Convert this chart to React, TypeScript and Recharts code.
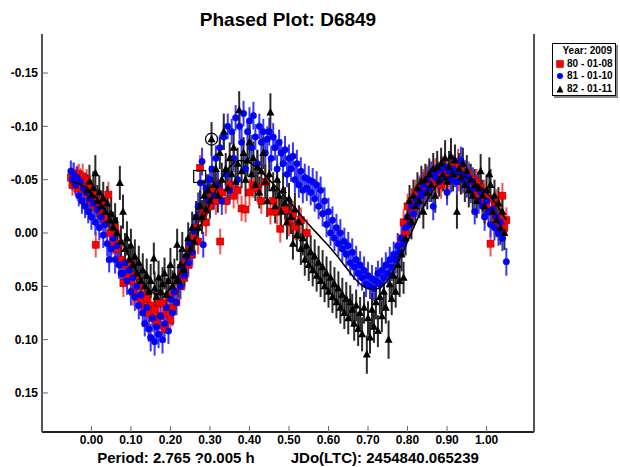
import React from "react";
import { ErrorBar, Scatter, ScatterChart, XAxis, YAxis } from "recharts";

// [phase, magnitude, error]
const session80: [number, number, number][] = [
  [-0.052, -0.052, 0.010], [-0.048, -0.045, 0.010], [-0.045, -0.056, 0.010], [-0.042, -0.048, 0.011],
  [-0.038, -0.052, 0.010], [-0.035, -0.042, 0.012], [-0.032, -0.055, 0.010], [-0.028, -0.050, 0.011],
  [-0.025, -0.045, 0.010], [-0.022, -0.053, 0.012], [-0.018, -0.047, 0.010], [-0.015, -0.040, 0.011],
  [-0.012, -0.050, 0.010], [-0.008, -0.035, 0.012], [-0.005, -0.044, 0.010], [0.000, -0.030, 0.011],
  [0.004, -0.038, 0.010], [0.008, -0.025, 0.012], [0.011, 0.011, 0.012], [0.015, -0.030, 0.011],
  [0.020, -0.022, 0.010], [0.025, -0.018, 0.012], [0.030, -0.028, 0.011], [0.035, -0.010, 0.012],
  [0.040, -0.015, 0.011], [0.043, -0.036, 0.012], [0.048, 0.000, 0.012],
  [0.055, 0.008, 0.012], [0.060, -0.005, 0.011], [0.065, 0.015, 0.012], [0.070, 0.010, 0.013],
  [0.075, 0.025, 0.012], [0.081, 0.047, 0.013], [0.085, 0.030, 0.012], [0.090, 0.040, 0.012],
  [0.095, 0.028, 0.013], [0.100, 0.045, 0.012], [0.105, 0.055, 0.013], [0.110, 0.040, 0.012],
  [0.115, 0.060, 0.012], [0.120, 0.050, 0.013], [0.125, 0.065, 0.012], [0.130, 0.058, 0.013],
  [0.135, 0.070, 0.012], [0.140, 0.062, 0.013], [0.145, 0.075, 0.012], [0.150, 0.068, 0.012],
  [0.155, 0.080, 0.013], [0.160, 0.072, 0.012], [0.165, 0.085, 0.013], [0.170, 0.065, 0.012],
  [0.175, 0.078, 0.013], [0.180, 0.066, 0.012], [0.185, 0.090, 0.013], [0.190, 0.075, 0.012],
  [0.195, 0.060, 0.013], [0.200, 0.082, 0.012], [0.205, 0.070, 0.013], [0.210, 0.055, 0.012],
  [0.215, 0.065, 0.012], [0.220, 0.045, 0.013], [0.225, 0.050, 0.012], [0.230, 0.037, 0.013],
  [0.235, 0.042, 0.012], [0.240, 0.025, 0.013], [0.245, 0.030, 0.012], [0.250, 0.015, 0.012],
  [0.255, 0.020, 0.013], [0.260, 0.005, 0.012], [0.265, -0.005, 0.013], [0.270, 0.008, 0.012],
  [0.275, -0.061, 0.012], [0.280, -0.015, 0.013], [0.285, -0.020, 0.012], [0.290, -0.010, 0.013],
  [0.295, -0.030, 0.012], [0.300, -0.025, 0.012],
  [0.305, -0.035, 0.013], [0.310, -0.040, 0.012], [0.315, -0.030, 0.013], [0.320, -0.045, 0.012],
  [0.326, 0.008, 0.012], [0.330, -0.038, 0.013], [0.340, -0.030, 0.012], [0.350, -0.045, 0.013],
  [0.360, -0.035, 0.012], [0.370, -0.040, 0.013], [0.380, -0.023, 0.012], [0.390, -0.022, 0.012],
  [0.400, -0.038, 0.013], [0.410, -0.045, 0.012], [0.420, -0.042, 0.013], [0.430, -0.030, 0.012],
  [0.440, -0.048, 0.013], [0.453, -0.020, 0.012], [0.460, -0.030, 0.013], [0.470, -0.020, 0.012],
  [0.478, -0.004, 0.013], [0.490, -0.022, 0.012], [0.500, -0.010, 0.013], [0.510, -0.018, 0.012],
  [0.516, -0.006, 0.013], [0.530, -0.012, 0.012], [0.545, 0.000, 0.013],
  [0.785, 0.005, 0.013], [0.790, -0.010, 0.012], [0.795, 0.000, 0.013], [0.800, -0.025, 0.012],
  [0.805, -0.015, 0.013], [0.810, -0.030, 0.012], [0.815, -0.022, 0.013], [0.820, -0.038, 0.012],
  [0.825, -0.030, 0.013], [0.830, -0.042, 0.012], [0.835, -0.035, 0.013], [0.840, -0.048, 0.012],
  [0.845, -0.040, 0.013], [0.850, -0.052, 0.012], [0.855, -0.045, 0.013], [0.860, -0.055, 0.012],
  [0.865, -0.048, 0.013], [0.870, -0.058, 0.012], [0.875, -0.050, 0.013], [0.880, -0.055, 0.012],
  [0.885, -0.045, 0.013], [0.890, -0.060, 0.012], [0.895, -0.052, 0.013], [0.900, -0.058, 0.012],
  [0.905, -0.050, 0.013], [0.910, -0.062, 0.012], [0.915, -0.055, 0.013], [0.920, -0.060, 0.012],
  [0.928, -0.067, 0.012], [0.930, -0.052, 0.013], [0.935, -0.058, 0.012], [0.940, -0.050, 0.013],
  [0.945, -0.056, 0.012], [0.950, -0.048, 0.013], [0.955, -0.055, 0.012], [0.960, -0.045, 0.013],
  [0.965, -0.050, 0.012], [0.970, -0.040, 0.013], [0.975, -0.048, 0.012], [0.980, -0.035, 0.013],
  [0.985, -0.042, 0.012], [0.990, -0.030, 0.013], [0.995, -0.038, 0.012], [1.000, -0.025, 0.013],
  [1.005, -0.032, 0.012], [1.010, 0.010, 0.012], [1.015, -0.020, 0.013], [1.020, -0.010, 0.012],
  [1.025, -0.028, 0.013], [1.030, -0.005, 0.012], [1.035, -0.015, 0.013], [1.040, -0.035, 0.012],
  [1.045, -0.005, 0.013], [1.050, -0.012, 0.012],
];

const session81: [number, number, number][] = [
  [-0.052, -0.058, 0.010], [-0.048, -0.050, 0.010], [-0.045, -0.055, 0.011], [-0.040, -0.045, 0.010],
  [-0.036, -0.052, 0.011], [-0.032, -0.035, 0.010], [-0.028, -0.048, 0.011], [-0.024, -0.030, 0.012],
  [-0.020, -0.042, 0.010], [-0.016, -0.025, 0.011], [-0.012, -0.038, 0.012], [-0.008, -0.020, 0.011],
  [-0.004, -0.032, 0.010], [0.000, -0.015, 0.012], [0.005, -0.028, 0.011], [0.010, -0.010, 0.012],
  [0.015, -0.022, 0.011], [0.020, -0.005, 0.012], [0.025, -0.015, 0.011], [0.030, 0.002, 0.012],
  [0.035, -0.008, 0.011], [0.040, 0.010, 0.012], [0.045, 0.025, 0.012],
  [0.050, 0.015, 0.012], [0.055, 0.005, 0.012], [0.060, 0.025, 0.013], [0.065, 0.012, 0.012],
  [0.070, 0.030, 0.013], [0.075, 0.038, 0.012], [0.080, 0.038, 0.013], [0.085, 0.028, 0.012],
  [0.090, 0.045, 0.013], [0.095, 0.035, 0.012], [0.100, 0.055, 0.013], [0.105, 0.042, 0.012],
  [0.110, 0.060, 0.013], [0.115, 0.050, 0.012], [0.120, 0.068, 0.013], [0.125, 0.058, 0.012],
  [0.130, 0.075, 0.013], [0.135, 0.085, 0.012], [0.140, 0.070, 0.013], [0.145, 0.090, 0.012],
  [0.150, 0.098, 0.013], [0.155, 0.080, 0.012], [0.160, 0.102, 0.013], [0.165, 0.088, 0.012],
  [0.170, 0.095, 0.013], [0.175, 0.078, 0.012], [0.180, 0.100, 0.013], [0.185, 0.085, 0.012],
  [0.190, 0.070, 0.013], [0.195, 0.092, 0.012], [0.200, 0.062, 0.013], [0.205, 0.075, 0.012],
  [0.210, 0.055, 0.013], [0.215, 0.065, 0.012], [0.220, 0.045, 0.013], [0.225, 0.050, 0.012],
  [0.230, 0.032, 0.013], [0.235, 0.040, 0.012], [0.240, 0.022, 0.013], [0.245, 0.028, 0.012],
  [0.250, 0.010, 0.013], [0.255, 0.018, 0.012], [0.260, -0.002, 0.013], [0.265, -0.015, 0.012],
  [0.270, -0.025, 0.013], [0.276, -0.047, 0.012], [0.280, -0.067, 0.013], [0.283, 0.011, 0.012],
  [0.290, -0.042, 0.013], [0.295, -0.030, 0.012], [0.300, -0.050, 0.013],
  [0.305, -0.060, 0.012], [0.310, -0.035, 0.013], [0.315, -0.070, 0.012], [0.320, -0.045, 0.013],
  [0.325, -0.080, 0.012], [0.330, -0.030, 0.013], [0.335, -0.090, 0.012], [0.340, -0.055, 0.013],
  [0.345, -0.100, 0.012], [0.350, -0.040, 0.013], [0.355, -0.095, 0.012], [0.360, -0.070, 0.013],
  [0.365, -0.108, 0.012], [0.370, -0.050, 0.013], [0.375, -0.100, 0.012], [0.380, -0.085, 0.013],
  [0.385, -0.112, 0.012], [0.390, -0.060, 0.013], [0.395, -0.095, 0.012], [0.400, -0.105, 0.013],
  [0.405, -0.080, 0.012], [0.410, -0.110, 0.013], [0.415, -0.090, 0.012], [0.420, -0.065, 0.013],
  [0.425, -0.100, 0.012], [0.430, -0.085, 0.013], [0.435, -0.095, 0.012], [0.440, -0.075, 0.013],
  [0.445, -0.088, 0.012], [0.450, -0.095, 0.013], [0.455, -0.070, 0.012], [0.460, -0.090, 0.013],
  [0.465, -0.080, 0.012], [0.470, -0.060, 0.013], [0.475, -0.085, 0.012], [0.480, -0.075, 0.013],
  [0.485, -0.065, 0.012], [0.490, -0.078, 0.013], [0.495, -0.055, 0.012], [0.500, -0.070, 0.013],
  [0.505, -0.060, 0.012], [0.510, -0.072, 0.013], [0.515, -0.050, 0.012], [0.520, -0.065, 0.013],
  [0.525, -0.045, 0.012], [0.530, -0.058, 0.013], [0.535, -0.040, 0.012], [0.540, -0.052, 0.013],
  [0.545, -0.042, 0.012], [0.550, -0.050, 0.013], [0.555, -0.038, 0.012], [0.560, -0.048, 0.013],
  [0.565, -0.032, 0.012], [0.570, -0.045, 0.013], [0.575, -0.025, 0.012], [0.580, -0.040, 0.013],
  [0.585, -0.018, 0.012], [0.590, -0.030, 0.013], [0.595, -0.008, 0.012], [0.600, -0.020, 0.013],
  [0.605, 0.000, 0.012], [0.610, -0.012, 0.013], [0.615, 0.005, 0.012], [0.620, -0.005, 0.013],
  [0.625, 0.010, 0.012], [0.630, 0.000, 0.013], [0.635, 0.015, 0.012], [0.640, 0.008, 0.013],
  [0.645, 0.020, 0.012], [0.650, 0.012, 0.013], [0.655, 0.028, 0.012], [0.660, 0.018, 0.013],
  [0.665, 0.032, 0.012], [0.670, 0.025, 0.013], [0.675, 0.038, 0.012], [0.680, 0.030, 0.013],
  [0.685, 0.042, 0.012], [0.690, 0.035, 0.013], [0.695, 0.048, 0.012], [0.700, 0.040, 0.013],
  [0.705, 0.050, 0.012], [0.710, 0.043, 0.013], [0.715, 0.052, 0.012], [0.720, 0.045, 0.013],
  [0.725, 0.038, 0.012], [0.730, 0.048, 0.013], [0.735, 0.035, 0.012], [0.740, 0.042, 0.013],
  [0.745, 0.030, 0.012], [0.750, 0.038, 0.013], [0.755, 0.025, 0.012], [0.760, 0.032, 0.013],
  [0.765, 0.020, 0.012], [0.770, 0.025, 0.013], [0.775, 0.012, 0.012], [0.780, 0.018, 0.013],
  [0.785, 0.005, 0.012], [0.790, 0.010, 0.013], [0.795, -0.005, 0.012],
  [0.800, -0.015, 0.012], [0.805, -0.008, 0.013], [0.810, -0.025, 0.012], [0.815, -0.018, 0.013],
  [0.820, -0.032, 0.012], [0.825, -0.028, 0.013], [0.830, -0.040, 0.012], [0.835, -0.035, 0.013],
  [0.840, -0.045, 0.012], [0.845, -0.038, 0.013], [0.850, -0.050, 0.012], [0.855, -0.042, 0.013],
  [0.860, -0.055, 0.012], [0.865, -0.025, 0.013], [0.870, -0.052, 0.012], [0.875, -0.058, 0.013],
  [0.880, -0.048, 0.012], [0.885, -0.060, 0.013], [0.890, -0.052, 0.012], [0.895, -0.062, 0.013],
  [0.900, -0.038, 0.012], [0.905, -0.058, 0.013], [0.910, -0.050, 0.012], [0.915, -0.060, 0.013],
  [0.920, -0.055, 0.012], [0.925, -0.048, 0.013], [0.930, -0.058, 0.012], [0.935, -0.068, 0.013],
  [0.940, -0.050, 0.012], [0.945, -0.055, 0.013], [0.950, -0.045, 0.012], [0.955, -0.052, 0.013],
  [0.960, -0.040, 0.012], [0.965, -0.048, 0.013], [0.970, -0.020, 0.012], [0.975, -0.042, 0.013],
  [0.980, -0.030, 0.012], [0.985, -0.038, 0.013], [0.990, -0.025, 0.012], [0.995, -0.015, 0.013],
  [1.000, -0.030, 0.012], [1.005, -0.020, 0.013], [1.010, -0.008, 0.012], [1.015, -0.022, 0.013],
  [1.020, -0.005, 0.012], [1.025, -0.015, 0.013], [1.030, 0.000, 0.012], [1.035, -0.010, 0.013],
  [1.040, 0.005, 0.012], [1.050, 0.027, 0.013],
];

const session82: [number, number, number][] = [
  [-0.010, -0.040, 0.015], [-0.005, -0.048, 0.016], [0.000, -0.035, 0.015], [0.005, -0.042, 0.016],
  [0.010, -0.056, 0.017], [0.015, -0.030, 0.015], [0.020, -0.038, 0.016], [0.025, -0.025, 0.015],
  [0.030, -0.032, 0.016], [0.035, -0.020, 0.015], [0.040, -0.028, 0.016], [0.045, -0.012, 0.015],
  [0.050, -0.018, 0.016],
  [0.055, -0.005, 0.015], [0.060, -0.012, 0.016], [0.065, 0.000, 0.015], [0.072, -0.047, 0.016],
  [0.075, 0.008, 0.015], [0.080, -0.020, 0.016], [0.085, 0.015, 0.015], [0.090, 0.005, 0.016],
  [0.095, 0.025, 0.015], [0.100, 0.012, 0.016], [0.105, 0.030, 0.015], [0.110, 0.022, 0.016],
  [0.115, 0.038, 0.015], [0.120, 0.028, 0.016], [0.125, 0.045, 0.015], [0.130, 0.035, 0.016],
  [0.135, 0.050, 0.015], [0.140, 0.040, 0.016], [0.145, 0.055, 0.015], [0.150, 0.045, 0.016],
  [0.158, 0.024, 0.015], [0.160, 0.052, 0.016], [0.165, 0.060, 0.015], [0.170, 0.042, 0.016],
  [0.175, 0.055, 0.015], [0.180, 0.048, 0.016], [0.185, 0.038, 0.015], [0.190, 0.058, 0.016],
  [0.195, 0.045, 0.015], [0.200, 0.030, 0.016], [0.205, 0.050, 0.015], [0.210, 0.040, 0.016],
  [0.217, 0.011, 0.015], [0.220, 0.045, 0.016], [0.225, 0.030, 0.015], [0.230, 0.015, 0.016],
  [0.235, 0.035, 0.015], [0.240, 0.020, 0.016], [0.245, 0.005, 0.015], [0.250, 0.015, 0.016],
  [0.255, -0.005, 0.015], [0.260, 0.008, 0.016], [0.265, -0.015, 0.015], [0.270, -0.005, 0.016],
  [0.275, -0.025, 0.015], [0.280, -0.015, 0.016], [0.285, -0.035, 0.015], [0.290, -0.022, 0.016],
  [0.295, -0.040, 0.015], [0.300, -0.030, 0.016], [0.304, -0.088, 0.016],
  [0.310, -0.045, 0.016], [0.315, -0.060, 0.015], [0.320, -0.035, 0.016], [0.325, -0.075, 0.015],
  [0.330, -0.050, 0.016], [0.335, -0.095, 0.017], [0.340, -0.060, 0.015], [0.345, -0.042, 0.016],
  [0.350, -0.070, 0.015], [0.355, -0.055, 0.016], [0.360, -0.080, 0.015], [0.365, -0.048, 0.016],
  [0.370, -0.065, 0.015], [0.374, -0.115, 0.018], [0.380, -0.058, 0.016], [0.385, -0.075, 0.015],
  [0.390, -0.050, 0.016], [0.395, -0.068, 0.015], [0.400, -0.085, 0.016], [0.405, -0.055, 0.015],
  [0.410, -0.070, 0.016], [0.415, -0.045, 0.015], [0.420, -0.062, 0.016], [0.425, -0.038, 0.015],
  [0.430, -0.058, 0.016], [0.435, -0.075, 0.015], [0.440, -0.048, 0.016], [0.445, -0.030, 0.015],
  [0.450, -0.055, 0.016], [0.453, -0.113, 0.018], [0.460, -0.042, 0.015], [0.465, -0.025, 0.016],
  [0.470, -0.050, 0.015], [0.475, -0.035, 0.016], [0.480, -0.020, 0.015], [0.485, -0.040, 0.016],
  [0.490, -0.028, 0.015], [0.495, -0.010, 0.016], [0.500, -0.032, 0.015],
  [0.505, -0.015, 0.016], [0.510, 0.010, 0.015], [0.515, -0.022, 0.016], [0.520, 0.002, 0.015],
  [0.525, -0.010, 0.016], [0.530, 0.015, 0.015], [0.535, 0.005, 0.016], [0.540, 0.025, 0.015],
  [0.545, 0.012, 0.016], [0.550, 0.030, 0.015], [0.555, 0.018, 0.016], [0.560, 0.035, 0.015],
  [0.565, 0.022, 0.016], [0.570, 0.040, 0.015], [0.575, 0.028, 0.016], [0.580, 0.045, 0.015],
  [0.585, 0.032, 0.016], [0.590, 0.050, 0.015], [0.595, 0.038, 0.016], [0.600, 0.055, 0.015],
  [0.605, 0.042, 0.016], [0.610, 0.060, 0.015], [0.615, 0.048, 0.016], [0.620, 0.065, 0.015],
  [0.625, 0.052, 0.016], [0.630, 0.070, 0.015], [0.635, 0.058, 0.016], [0.640, 0.075, 0.015],
  [0.645, 0.062, 0.016], [0.650, 0.080, 0.015], [0.655, 0.065, 0.016], [0.660, 0.072, 0.015],
  [0.665, 0.085, 0.016], [0.670, 0.068, 0.015], [0.675, 0.090, 0.016], [0.680, 0.075, 0.015],
  [0.685, 0.095, 0.016], [0.690, 0.070, 0.015], [0.697, 0.114, 0.018], [0.700, 0.080, 0.016],
  [0.705, 0.098, 0.015], [0.710, 0.072, 0.016], [0.715, 0.088, 0.015], [0.720, 0.065, 0.016],
  [0.725, 0.092, 0.015], [0.730, 0.060, 0.016], [0.735, 0.078, 0.015], [0.740, 0.055, 0.016],
  [0.745, 0.070, 0.015], [0.752, 0.100, 0.018], [0.755, 0.048, 0.016], [0.760, 0.062, 0.015],
  [0.765, 0.040, 0.016], [0.770, 0.055, 0.015], [0.775, 0.030, 0.016], [0.780, 0.045, 0.015],
  [0.785, 0.020, 0.016], [0.790, 0.042, 0.015], [0.795, 0.005, 0.016],
  [0.800, -0.015, 0.016], [0.805, -0.030, 0.015], [0.810, -0.010, 0.016], [0.815, -0.035, 0.015],
  [0.820, -0.025, 0.016], [0.825, -0.042, 0.015], [0.830, -0.030, 0.016], [0.835, -0.048, 0.015],
  [0.840, -0.020, 0.016], [0.845, -0.050, 0.015], [0.850, -0.038, 0.016], [0.855, -0.055, 0.015],
  [0.860, -0.045, 0.016], [0.865, -0.060, 0.015], [0.870, -0.035, 0.016], [0.875, -0.062, 0.015],
  [0.880, -0.050, 0.016], [0.885, -0.065, 0.015], [0.890, -0.055, 0.016], [0.895, -0.070, 0.017],
  [0.900, -0.048, 0.016], [0.905, -0.062, 0.015], [0.910, -0.072, 0.017], [0.915, -0.055, 0.016],
  [0.920, -0.068, 0.015], [0.925, -0.020, 0.016], [0.930, -0.060, 0.015], [0.935, -0.052, 0.016],
  [0.940, -0.065, 0.015], [0.945, -0.045, 0.016], [0.950, -0.058, 0.015], [0.955, -0.040, 0.016],
  [0.960, -0.050, 0.015], [0.965, -0.035, 0.016], [0.970, -0.045, 0.015], [0.975, -0.030, 0.016],
  [0.980, -0.042, 0.015], [0.985, -0.058, 0.016], [0.990, -0.035, 0.015], [0.995, -0.025, 0.016],
  [1.000, -0.040, 0.015], [1.007, -0.055, 0.016], [1.010, -0.045, 0.015], [1.015, -0.020, 0.016],
  [1.020, -0.035, 0.015], [1.025, -0.012, 0.016], [1.030, -0.028, 0.015], [1.035, -0.005, 0.016],
  [1.040, -0.020, 0.015], [1.045, 0.000, 0.016],
];

// Fourier fit, [phase, magnitude]
const fitCurve: [number, number][] = [
  [-0.05, -0.048], [-0.025, -0.045], [0.0, -0.038], [0.025, -0.027], [0.05, -0.012], [0.075, 0.006],
  [0.1, 0.025], [0.125, 0.043], [0.15, 0.055], [0.175, 0.058], [0.2, 0.052], [0.225, 0.037],
  [0.25, 0.018], [0.275, -0.006], [0.3, -0.028], [0.325, -0.048], [0.35, -0.062], [0.375, -0.068],
  [0.4, -0.066], [0.425, -0.059], [0.45, -0.05], [0.475, -0.04], [0.5, -0.03], [0.525, -0.019],
  [0.55, -0.008], [0.575, 0.002], [0.6, 0.012], [0.625, 0.023], [0.65, 0.035], [0.675, 0.046],
  [0.7, 0.052], [0.725, 0.052], [0.75, 0.044], [0.775, 0.028], [0.8, 0.008], [0.825, -0.013],
  [0.85, -0.031], [0.875, -0.045], [0.9, -0.052], [0.925, -0.055], [0.95, -0.052], [0.975, -0.046],
  [1.0, -0.038], [1.025, -0.027], [1.05, -0.012],
];

// open markers drawn around two observations
const markedPoints: [number, number, string][] = [
  [0.274, -0.053, "square"],
  [0.304, -0.088, "circle"],
];

const xTicks = [0, 0.1, 0.2, 0.3, 0.4, 0.5, 0.6, 0.7, 0.8, 0.9, 1.0];
const yTicks = [-0.15, -0.1, -0.05, 0, 0.05, 0.1, 0.15];
const xDomain: [number, number] = [-0.125, 1.12];
const yDomain: [number, number] = [-0.1866, 0.1866];

const legendTitle = "Year: 2009";
const legendItems = [
  { label: "80 - 01-08", kind: "square", color: "#ff0000" },
  { label: "81 - 01-10", kind: "circle", color: "#0000ff" },
  { label: "82 - 01-11", kind: "triangle", color: "#000000" },
];

const FONT = "'Liberation Sans', Arial, Helvetica, sans-serif";

const toRows = (pts: [number, number, number][]) => pts.map(([x, y, err]) => ({ x, y, err }));
const fitRows = fitCurve.map(([x, y]) => ({ x, y }));
const markRows = markedPoints.map(([x, y, kind]) => ({ x, y, kind }));

const RedSquare = (p: any) => (
  <rect x={p.cx - 3.5} y={p.cy - 3.5} width={7} height={7} fill="#ff0000" stroke="#b00000" strokeWidth={0.6} />
);
const BlueDot = (p: any) => <circle cx={p.cx} cy={p.cy} r={3.2} fill="#0000ff" stroke="#0000c0" strokeWidth={0.5} />;
const BlackTri = (p: any) => (
  <polygon points={`${p.cx},${p.cy - 4.5} ${p.cx - 4},${p.cy + 3} ${p.cx + 4},${p.cy + 3}`} fill="#000" />
);
const OpenMark = (p: any) =>
  p.payload?.kind === "circle" ? (
    <circle cx={p.cx} cy={p.cy} r={6} fill="none" stroke="#000" strokeWidth={1.2} />
  ) : (
    <rect x={p.cx - 6} y={p.cy - 6} width={12} height={12} fill="none" stroke="#000" strokeWidth={1.2} />
  );

const tickStyle = { fill: "#000", fontSize: 12, fontWeight: 700, fontFamily: FONT };

function LegendMarker({ kind, color }: { kind: string; color: string }) {
  return (
    <svg width={8} height={8} style={{ marginRight: 3, flexShrink: 0 }}>
      {kind === "square" && <rect x={0.5} y={0.5} width={7} height={7} fill={color} stroke="#900" strokeWidth={0.5} />}
      {kind === "circle" && <circle cx={4} cy={4} r={3} fill={color} />}
      {kind === "triangle" && <polygon points="4,0.5 0.5,7.5 7.5,7.5" fill={color} />}
    </svg>
  );
}

export default function App() {
  return (
    <div style={{ position: "absolute", left: 0, top: 0, width: 620, height: 467, background: "#fff", fontFamily: FONT }}>
      <div
        style={{
          position: "absolute", left: 42, top: 10, width: 492, textAlign: "center",
          fontSize: 19, fontWeight: 700, lineHeight: 1,
        }}
      >
        Phased Plot: D6849
      </div>
      <ScatterChart width={620} height={467} margin={{ top: 34, right: 0, bottom: 0, left: 0 }}>
        <XAxis
          xAxisId="b" type="number" dataKey="x" domain={xDomain} ticks={xTicks} allowDataOverflow
          tickFormatter={(v: number) => v.toFixed(2)} height={35} tickSize={-6} tickMargin={9}
          axisLine={{ stroke: "#222", strokeWidth: 2 }} tickLine={{ stroke: "#666" }} tick={tickStyle}
        />
        <XAxis
          xAxisId="t" orientation="top" type="number" dataKey="x" domain={xDomain} ticks={xTicks} allowDataOverflow
          height={0} tick={false} tickLine={false} axisLine={{ stroke: "#555", strokeWidth: 2 }}
        />
        <YAxis
          yAxisId="l" type="number" dataKey="y" domain={yDomain} ticks={yTicks} reversed allowDataOverflow
          tickFormatter={(v: number) => v.toFixed(2)} width={42} tickSize={-6} tickMargin={10}
          axisLine={{ stroke: "#555", strokeWidth: 2 }} tickLine={{ stroke: "#666" }} tick={tickStyle}
        />
        <YAxis
          yAxisId="r" orientation="right" type="number" dataKey="y" domain={yDomain} ticks={yTicks} reversed
          allowDataOverflow width={86} tick={false} tickSize={-6}
          axisLine={{ stroke: "#555", strokeWidth: 2 }} tickLine={{ stroke: "#666" }}
        />
        <Scatter data={toRows(session80)} xAxisId="b" yAxisId="l" shape={RedSquare} isAnimationActive={false}>
          <ErrorBar dataKey="err" direction="y" width={0} stroke="#ff5050" strokeWidth={2} />
        </Scatter>
        <Scatter data={toRows(session81)} xAxisId="b" yAxisId="l" shape={BlueDot} isAnimationActive={false}>
          <ErrorBar dataKey="err" direction="y" width={0} stroke="#3838ff" strokeWidth={2} />
        </Scatter>
        <Scatter data={toRows(session82)} xAxisId="b" yAxisId="l" shape={BlackTri} isAnimationActive={false}>
          <ErrorBar dataKey="err" direction="y" width={0} stroke="#2a2a2a" strokeWidth={2} />
        </Scatter>
        <Scatter
          data={fitRows} xAxisId="t" yAxisId="r" line={{ stroke: "#000", strokeWidth: 1.5 }}
          lineJointType="monotoneX" shape={() => <g />} isAnimationActive={false}
        />
        <Scatter data={markRows} xAxisId="b" yAxisId="l" shape={OpenMark} isAnimationActive={false} />
      </ScatterChart>
      <div
        style={{
          position: "absolute", left: 552, top: 43, width: 64, height: 53, border: "1px solid #000",
          boxShadow: "2px 2px 0 #888", background: "#fff", fontSize: 10, fontWeight: 700, lineHeight: "12.5px",
          boxSizing: "border-box", padding: "1px 3px 0 3px",
        }}
      >
        <div style={{ textAlign: "right", whiteSpace: "nowrap" }}>{legendTitle}</div>
        {legendItems.map((it) => (
          <div key={it.label} style={{ display: "flex", alignItems: "center", whiteSpace: "nowrap" }}>
            <LegendMarker kind={it.kind} color={it.color} />
            {it.label}
          </div>
        ))}
      </div>
      <div
        style={{
          position: "absolute", left: 42, top: 450, width: 492, textAlign: "center",
          fontSize: 15, fontWeight: 700, lineHeight: 1, whiteSpace: "pre",
        }}
      >
        Period: 2.765 ?0.005 h<span style={{ marginLeft: 36 }}>JDo(LTC): 2454840.065239</span>
      </div>
    </div>
  );
}
